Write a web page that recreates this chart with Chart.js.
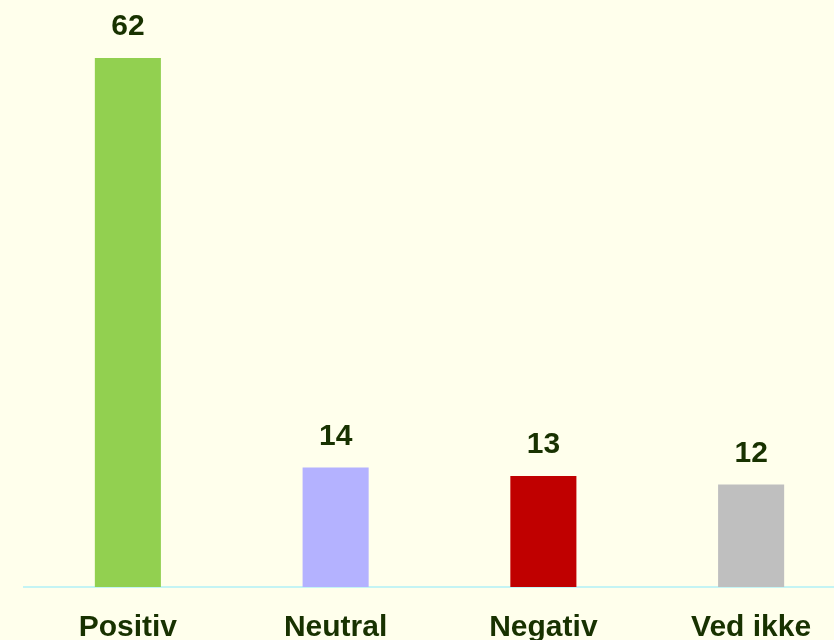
<!DOCTYPE html>
<html>
<head>
<meta charset="utf-8">
<script src="https://cdn.jsdelivr.net/npm/chart.js@4/dist/chart.umd.min.js"></script>
<style>
  html, body { margin: 0; padding: 0; background: #ffffec; overflow: hidden; }
  #wrap { position: relative; width: 856px; height: 640px; }
</style>
</head>
<body>
<div id="wrap"><canvas id="chart" width="856" height="640"></canvas></div>
<script>
const categories = ['Positiv', 'Neutral', 'Negativ', 'Ved ikke'];
const values = [62, 14, 13, 12];
const barColors = ['#92d050', '#b4b2ff', '#c00000', '#bfbfbf'];

const textColor = '#183200';
const fontFamily = '"Liberation Sans", Arial, sans-serif';

// value labels over the bars
const valueLabels = {
    id: 'valueLabels',
    afterDatasetsDraw(chart) {
        const ctx = chart.ctx;
        const meta = chart.getDatasetMeta(0);
        ctx.save();
        ctx.fillStyle = textColor;
        ctx.font = 'bold 30px ' + fontFamily;
        ctx.textAlign = 'center';
        ctx.textBaseline = 'alphabetic';
        meta.data.forEach((bar, i) => {
            ctx.fillText(values[i], bar.x, bar.y - 23);
        });
        ctx.restore();
    }
};

new Chart(document.getElementById('chart'), {
    type: 'bar',
    data: {
        labels: categories,
        datasets: [{
            data: values,
            backgroundColor: barColors,
            barPercentage: 0.318,
            categoryPercentage: 1
        }]
    },
    options: {
        responsive: false,
        animation: false,
        layout: { padding: { left: 24, right: 1, top: 0, bottom: 0 } },
        plugins: {
            legend: { display: false },
            tooltip: { enabled: false }
        },
        scales: {
            x: {
                grid: { display: false },
                border: { display: true, color: '#c4f4f4', width: 2 },
                ticks: {
                    color: textColor,
                    font: { family: fontFamily, size: 30, weight: 'bold' },
                    padding: 15,
                    maxRotation: 0
                },
                afterFit(scale) { scale.height = 53; }
            },
            y: {
                display: false,
                min: 0,
                max: 68.8
            }
        }
    },
    plugins: [valueLabels]
});
</script>
</body>
</html>
